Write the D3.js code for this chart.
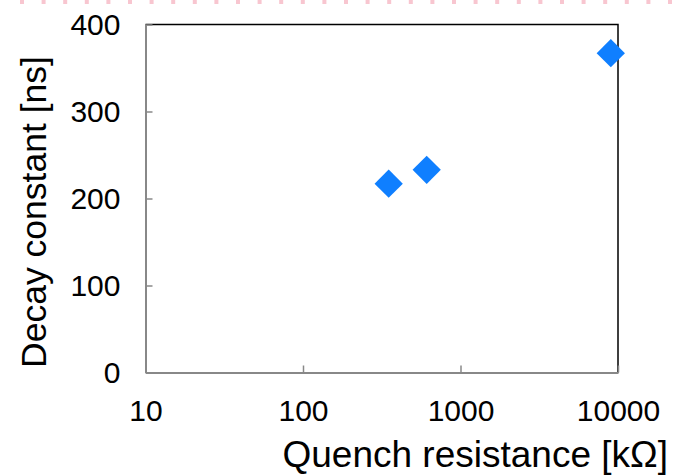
<!DOCTYPE html>
<html>
<head>
<meta charset="utf-8">
<script src="https://cdn.jsdelivr.net/npm/d3@7"></script>
<style>
  html, body { margin: 0; padding: 0; background: #fff; }
  svg { display: block; font-family: "Liberation Sans", Arial, sans-serif; }
</style>
</head>
<body>
<svg id="chart" width="674" height="475"></svg>
<script>
// Quench resistance [kΩ] vs decay constant [ns]
const resistance = [350, 610, 9000];
const decay = [217, 233, 367];
const xTicks = [10, 100, 1000, 10000];
const yTicks = [0, 100, 200, 300, 400];

const svg = d3.select("#chart");
const plotLeft = 145.5, plotRight = 618, plotTop = 24.5, plotBottom = 372.5;

const x = d3.scaleLog().domain([10, 10000]).range([plotLeft, plotRight]);
const y = d3.scaleLinear().domain([0, 400]).range([plotBottom, plotTop]);

// dashed pink line along the top edge of the page
svg.append("line")
  .attr("x1", 20).attr("x2", 674).attr("y1", 2).attr("y2", 2)
  .attr("stroke", "#f8c6d0").attr("stroke-width", 4)
  .attr("stroke-dasharray", "4 17.6");

// frame: top and right in black
svg.append("path")
  .attr("d", `M${plotLeft},${plotTop}H${plotRight}V${plotBottom}`)
  .attr("fill", "none").attr("stroke", "#000").attr("stroke-width", 1.5);

// x axis (ticks pointing into the plot)
const xAxis = d3.axisBottom(x).tickValues(xTicks).tickSizeInner(-7).tickSizeOuter(0)
  .tickFormat(d3.format("d")).tickPadding(27);
const gx = svg.append("g").attr("transform", `translate(0,${plotBottom})`).call(xAxis);

// y axis
const yAxis = d3.axisLeft(y).tickValues(yTicks).tickSizeInner(-7).tickSizeOuter(0)
  .tickFormat(d3.format("d")).tickPadding(25);
const gy = svg.append("g").attr("transform", `translate(${plotLeft},0)`).call(yAxis);

[gx, gy].forEach(g => {
  g.select(".domain").attr("stroke", "#888").attr("stroke-width", 2);
  g.selectAll(".tick line").attr("stroke", "#888").attr("stroke-width", 1.5);
  g.selectAll(".tick text").attr("fill", "#000").attr("font-size", 30)
    .attr("font-family", "Liberation Sans, Arial, sans-serif");
});
gx.selectAll(".tick text").attr("dy", "0.71em");

// axis titles
svg.append("text")
  .attr("x", 668).attr("y", 467)
  .attr("text-anchor", "end")
  .attr("font-size", 37)
  .text("Quench resistance [kΩ]");

svg.append("text")
  .attr("transform", `translate(46,212) rotate(-90)`)
  .attr("text-anchor", "middle")
  .attr("font-size", 35.5)
  .text("Decay constant [ns]");

// data markers: diamonds
const data = resistance.map((r, i) => ({ r, d: decay[i] }));
svg.append("g").selectAll("path")
  .data(data)
  .join("path")
  .attr("transform", d => `translate(${x(d.r)},${y(d.d)}) rotate(45)`)
  .attr("d", d3.symbol().type(d3.symbolSquare).size(400))
  .attr("fill", "#0f7fff");
</script>
</body>
</html>
